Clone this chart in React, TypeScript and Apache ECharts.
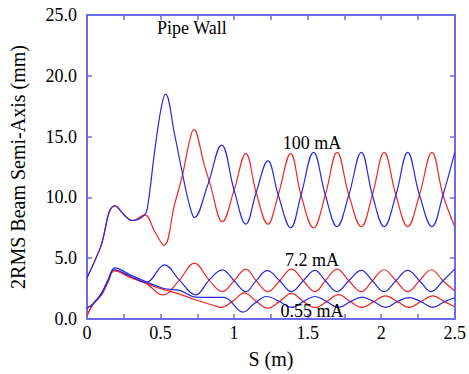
import React, { useEffect, useRef } from 'react';
import * as echarts from 'echarts';

// [S (m), 2RMS semi-axis (mm)]
const x100mA: number[][] = [
  [0, 3.4], [0.09, 5.85], [0.19, 9.3], [0.31, 8.1], [0.392, 8.57], [0.46, 7.2], [0.523, 6.05],
  [0.595, 9.4], [0.65, 11.9], [0.696, 14.6], [0.725, 15.6], [0.797, 12.7], [0.838, 11.05],
  [0.92, 8.0], [1.0, 10.6], [1.08, 13.6], [1.15, 10.4], [1.23, 7.8], [1.3, 10.2], [1.385, 13.6],
  [1.455, 10.2], [1.54, 7.5], [1.62, 10.2], [1.7, 13.7], [1.78, 10.2], [1.865, 7.6], [1.94, 10.2],
  [2.02, 13.7], [2.1, 10.2], [2.18, 7.6], [2.26, 10.2], [2.345, 13.7], [2.42, 10.2], [2.5, 7.6],
];
const y100mA: number[][] = [
  [0, 3.4], [0.09, 5.85], [0.19, 9.3], [0.31, 8.1], [0.392, 8.57], [0.414, 9.4], [0.46, 13.8],
  [0.505, 17.4], [0.534, 18.5], [0.595, 15.2], [0.65, 11.9], [0.696, 9.4], [0.73, 8.35],
  [0.82, 11.0], [0.915, 14.3], [1.0, 10.6], [1.08, 7.8], [1.15, 10.4], [1.23, 13.0], [1.3, 10.2],
  [1.385, 7.5], [1.455, 10.2], [1.54, 13.7], [1.62, 10.2], [1.7, 7.6], [1.78, 10.2], [1.865, 13.7],
  [1.94, 10.2], [2.02, 7.6], [2.1, 10.2], [2.18, 13.7], [2.26, 10.2], [2.345, 7.6], [2.42, 10.2],
  [2.5, 13.7],
];
const x7mA: number[][] = [
  [0, 0.25], [0.04, 1.2], [0.1, 2.05], [0.144, 3.1], [0.185, 3.95], [0.3, 3.4], [0.4, 2.95],
  [0.516, 1.98], [0.628, 3.2], [0.73, 4.6], [0.83, 3.2], [0.92, 2.25], [1.0, 3.15], [1.08, 4.1],
  [1.15, 3.15], [1.23, 2.25], [1.31, 3.15], [1.39, 4.1], [1.47, 3.15], [1.55, 2.25], [1.62, 3.15],
  [1.7, 4.1], [1.78, 3.15], [1.865, 2.25], [1.94, 3.15], [2.02, 4.05], [2.1, 3.15], [2.18, 2.25],
  [2.26, 3.15], [2.34, 4.05], [2.42, 3.15], [2.5, 2.3],
];
const y7mA: number[][] = [
  [0, 0.9], [0.04, 1.2], [0.1, 2.1], [0.144, 3.2], [0.185, 4.05], [0.3, 3.5], [0.4, 3.0],
  [0.527, 4.45], [0.628, 3.2], [0.74, 1.98], [0.83, 3.2], [0.92, 4.04], [1.0, 3.15], [1.08, 2.25],
  [1.15, 3.15], [1.225, 3.98], [1.31, 3.15], [1.39, 2.25], [1.47, 3.15], [1.55, 4.0], [1.62, 3.15],
  [1.7, 2.25], [1.78, 3.15], [1.865, 4.0], [1.94, 3.15], [2.02, 2.25], [2.1, 3.15], [2.18, 4.0],
  [2.26, 3.15], [2.34, 2.25], [2.42, 3.15], [2.5, 4.1],
];
const x055mA: number[][] = [
  [0, 0.25], [0.04, 1.2], [0.1, 2.0], [0.144, 3.05], [0.185, 4.0], [0.3, 3.4], [0.4, 2.95],
  [0.5, 2.5], [0.63, 2.05], [0.73, 1.6], [0.865, 1.1], [0.91, 0.96], [0.99, 1.45], [1.07, 2.15],
  [1.15, 1.45], [1.23, 0.9], [1.31, 1.45], [1.39, 2.1], [1.47, 1.45], [1.55, 0.95], [1.63, 1.43],
  [1.71, 2.0], [1.79, 1.43], [1.87, 0.95], [1.95, 1.43], [2.03, 1.9], [2.11, 1.43], [2.19, 0.95],
  [2.27, 1.43], [2.35, 1.9], [2.43, 1.43], [2.5, 1.0],
];
const y055mA: number[][] = [
  [0, 0.9], [0.04, 1.25], [0.1, 2.15], [0.144, 3.25], [0.19, 4.2], [0.3, 3.6], [0.4, 3.07],
  [0.516, 2.53], [0.63, 2.35], [0.74, 1.8], [0.84, 1.78], [0.93, 1.78], [1.06, 0.57],
  [1.14, 1.3], [1.22, 1.85], [1.31, 1.43], [1.39, 0.95], [1.47, 1.43], [1.55, 1.85], [1.63, 1.43],
  [1.71, 0.95], [1.79, 1.43], [1.87, 1.8], [1.95, 1.43], [2.03, 0.95], [2.11, 1.43], [2.19, 1.75],
  [2.27, 1.43], [2.35, 0.95], [2.43, 1.43], [2.5, 1.75],
];

const annotations = [
  { text: 'Pipe Wall', x: 157, y: 28, align: 'left' },
  { text: '100 mA', x: 312, y: 143, align: 'center' },
  { text: '7.2 mA', x: 312, y: 260, align: 'center' },
  { text: '0.55 mA', x: 312, y: 311, align: 'center' },
];

const AXIS = '#6b6bef';
const RED = '#f02828';
const BLUE = '#2828e0';
const FONT = 'Liberation Serif';

export default function App() {
  const ref = useRef<HTMLDivElement>(null);
  useEffect(() => {
    if (!ref.current) return;
    const chart = echarts.init(ref.current, null, { renderer: 'svg' });
    const axisCommon = {
      type: 'value' as const,
      axisLine: { show: true, onZero: false, lineStyle: { color: AXIS, width: 2 } },
      axisTick: { show: true, inside: true, length: 5, lineStyle: { color: AXIS, width: 1.5 } },
      splitLine: { show: false },
    };
    const line = (data: number[][], color: string) => ({
      type: 'line',
      data,
      smooth: 0.4,
      showSymbol: false,
      symbol: 'none',
      lineStyle: { color, width: 1.2 },
      silent: true,
    });
    chart.setOption({
      animation: false,
      backgroundColor: '#fff',
      textStyle: { fontFamily: FONT },
      grid: { left: 87, right: 12, top: 15, bottom: 55 },
      xAxis: [
        {
          ...axisCommon,
          position: 'bottom',
          min: 0, max: 2.5, interval: 0.5,
          minorTick: { show: true, splitNumber: 2, length: 5, lineStyle: { color: AXIS, width: 1.5 } },
          axisLabel: { color: '#000', fontFamily: FONT, fontSize: 18, margin: 5 },
          name: 'S (m)', nameLocation: 'middle', nameGap: 30,
          nameTextStyle: { color: '#000', fontFamily: FONT, fontSize: 20 },
        },
        {
          ...axisCommon,
          position: 'top',
          min: 0, max: 2.5, interval: 0.5,
          minorTick: { show: true, splitNumber: 2, length: 5, lineStyle: { color: AXIS, width: 1.5 } },
          axisLabel: { show: false },
        },
      ],
      yAxis: [
        {
          ...axisCommon,
          position: 'left',
          min: 0, max: 25, interval: 5,
          axisLabel: { color: '#000', fontFamily: FONT, fontSize: 18, margin: 10, formatter: (v: number) => v.toFixed(1) },
          name: '2RMS Beam Semi-Axis (mm)', nameLocation: 'middle', nameGap: 59,
          nameTextStyle: { color: '#000', fontFamily: FONT, fontSize: 20 },
        },
        {
          ...axisCommon,
          position: 'right',
          min: 0, max: 25, interval: 5,
          axisLabel: { show: false },
        },
      ],
      series: [
        line(x100mA, RED),
        line(y100mA, BLUE),
        line(x7mA, RED),
        line(x055mA, RED),
        line(y7mA, BLUE),
        line(y055mA, BLUE),
      ],
      graphic: annotations.map((a) => ({
        type: 'text',
        x: a.x,
        y: a.y,
        z: 10,
        style: {
          text: a.text,
          fontFamily: FONT,
          fontSize: 18,
          fill: '#000',
          align: a.align,
          verticalAlign: 'middle',
        },
      })),
    });
    return () => chart.dispose();
  }, []);
  return (
    <div
      ref={ref}
      style={{ position: 'fixed', left: 0, top: 0, width: 469, height: 374, background: '#fff' }}
    />
  );
}
